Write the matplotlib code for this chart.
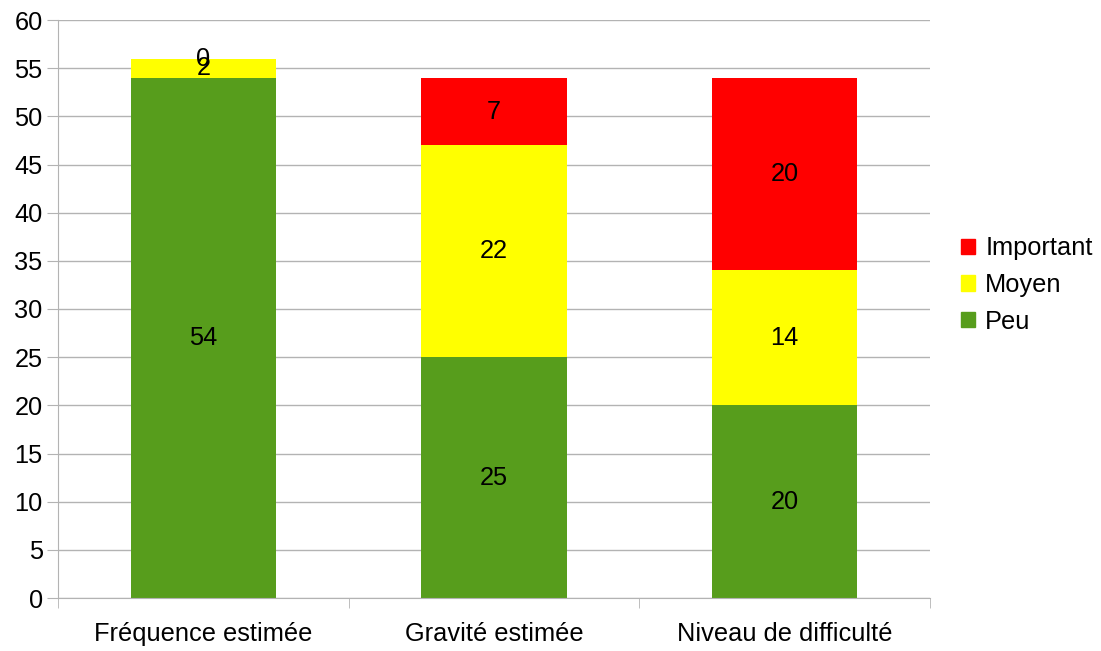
import numpy as np
import matplotlib
matplotlib.use('Agg')
import matplotlib.pyplot as plt
from matplotlib.patches import Patch

plt.rcParams['font.family'] = ['Liberation Sans', 'DejaVu Sans']

categories = ['Fréquence estimée', 'Gravité estimée', 'Niveau de difficulté']
peu = [54, 25, 20]
moyen = [2, 22, 14]
important = [0, 7, 20]

col_peu = '#579d1c'
col_moyen = '#ffff00'
col_imp = '#ff0000'

fig = plt.figure(figsize=(11.01, 6.51), dpi=100)
ax = fig.add_axes([58/1101, 53/651, (930-58)/1101, (598-20)/651])

x = np.arange(len(categories))
w = 0.5
ax.bar(x, peu, w, color=col_peu, zorder=2)
ax.bar(x, moyen, w, bottom=peu, color=col_moyen, zorder=2)
bottom2 = np.array(peu) + np.array(moyen)
ax.bar(x, important, w, bottom=bottom2, color=col_imp, zorder=2)

fs = 18.3
for i in range(len(categories)):
    ax.text(x[i], peu[i] / 2, str(peu[i]), ha='center', va='center', fontsize=fs, zorder=3)
    ax.text(x[i], peu[i] + moyen[i] / 2, str(moyen[i]), ha='center', va='center', fontsize=fs, zorder=3)
    ax.text(x[i], bottom2[i] + important[i] / 2, str(important[i]), ha='center', va='center', fontsize=fs, zorder=3)

ax.set_xlim(-0.5, 2.5)
ax.set_ylim(0, 60)
ax.set_yticks(np.arange(0, 61, 5))
ax.yaxis.grid(True, color='#b3b3b3', linewidth=1, zorder=0)
ax.set_xticks(x)
ax.set_xticklabels(categories)
ax.set_xticks([-0.5, 0.5, 1.5, 2.5], minor=True)
ax.tick_params(axis='x', which='major', length=0, pad=17, labelsize=fs)
ax.tick_params(axis='x', which='minor', length=7.5, color='#b3b3b3', direction='out')
ax.tick_params(axis='y', length=8, color='#b3b3b3', labelsize=fs, pad=3)

for s in ['top', 'right']:
    ax.spines[s].set_visible(False)
ax.spines['left'].set_color('#b3b3b3')
ax.spines['bottom'].set_color('#b3b3b3')

handles = [Patch(color=col_imp), Patch(color=col_moyen), Patch(color=col_peu)]
fig.legend(handles, ['Important', 'Moyen', 'Peu'], loc='center left',
           bbox_to_anchor=(961/1101, 1 - 285/651), frameon=False, fontsize=fs,
           handlelength=0.55, handleheight=0.55, handletextpad=0.4, labelspacing=0.5,
           borderaxespad=0, borderpad=0)

fig.savefig('out.png', dpi=100)
